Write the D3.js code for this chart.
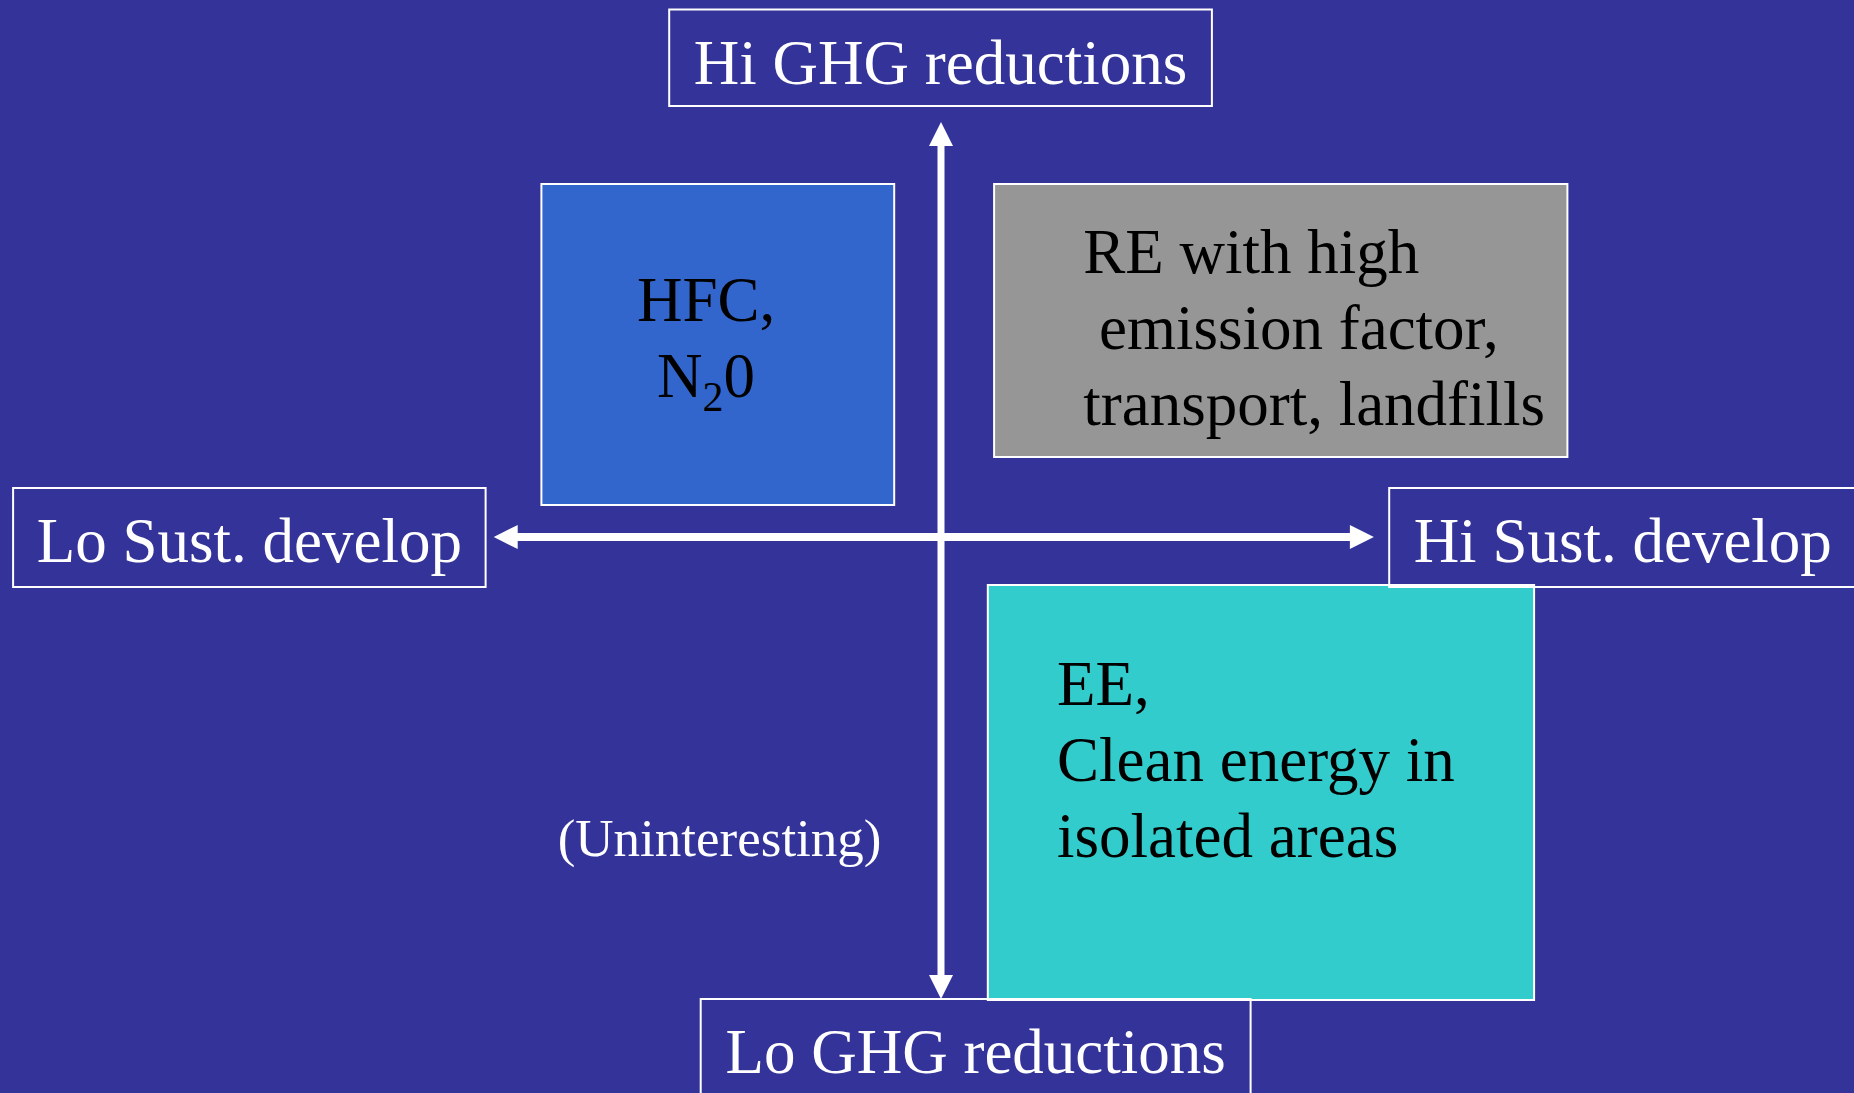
<!DOCTYPE html>
<html>
<head>
<meta charset="utf-8">
<script src="https://cdn.jsdelivr.net/npm/d3@7/dist/d3.min.js"></script>
<style>
body { margin: 0; background: #333399; overflow: hidden; }
svg { display: block; }
text { font-family: "Liberation Serif", "Times New Roman", serif; white-space: pre; }
</style>
</head>
<body>
<svg id="drawingPane" width="1854" height="1093"></svg>
<script>
const drawingPane = d3.select("#drawingPane");

//----------------------------------------------------------------------------------------------------------------------
// Data: x = sustainable development (-1 lo .. 1 hi), y = GHG reductions (-1 lo .. 1 hi)
//----------------------------------------------------------------------------------------------------------------------
const axisLabels = ["Hi GHG reductions", "Lo GHG reductions", "Lo Sust. develop", "Hi Sust. develop"];
// [x0, x1, yTop, yBottom]
const axisLabelExtents = [
    [-0.302, 0.301, 1.055, 0.862],
    [-0.267, 0.344, -0.924, -1.13],
    [-1.031, -0.506, 0.098, -0.1],
    [0.498, 1.017, 0.098, -0.1]
];

const quadrantNames = ["HFC", "RE", "EE"];
const quadrantLines = [
    ["HFC,", "N₂0"],
    ["RE with high", " emission factor,", "transport, landfills"],
    ["EE,", "Clean energy in", "isolated areas"]
];
const quadrantExtents = [
    [-0.444, -0.052, 0.706, 0.064],
    [0.059, 0.696, 0.706, 0.16],
    [0.052, 0.659, -0.096, -0.926]
];
// text anchor (x, first baseline)
const quadrantTextAt = [[-0.261, 0.432], [0.158, 0.528], [0.129, -0.336]];
const quadrantAnchor = ["middle", "start", "start"];
const quadrantColors = ["#3366cc", "#969696", "#33cccc"];

const emptyQuadrant = {text: "(Uninteresting)", at: [-0.246, -0.638]};

// arrows: horizontal [xFrom, xTo], vertical [yFrom, yTo]
const sustArrow = [-0.497, 0.481];
const ghgArrow = [0.83, -0.924];

//----------------------------------------------------------------------------------------------------------------------
// Scales
//----------------------------------------------------------------------------------------------------------------------
const x = d3.scaleLinear().domain([-1, 1]).range([41, 1841]);
const y = d3.scaleLinear().domain([-1, 1]).range([1037, 37]);

const fontSize = 63;
const lineStep = 76;

drawingPane.append("rect")
    .attr("width", 1854)
    .attr("height", 1093)
    .attr("fill", "#333399");

function addLine(textSel, str, lx, first) {
    const parts = str.split("₂");
    let t = textSel.append("tspan").attr("x", lx).attr("dy", first ? 0 : lineStep).text(parts[0]);
    if (parts.length > 1) {
        textSel.append("tspan").attr("font-size", 42).attr("dy", 14).text("2");
        textSel.append("tspan").attr("dy", -14).text(parts[1]);
    }
    return t;
}

//----------------------------------------------------------------------------------------------------------------------
// Quadrant boxes
//----------------------------------------------------------------------------------------------------------------------
const quads = drawingPane.selectAll(".quad")
    .data(quadrantNames)
    .enter().append("g")
    .attr("class", "quad");

quads.append("rect")
    .attr("x", (d, i) => x(quadrantExtents[i][0]))
    .attr("y", (d, i) => y(quadrantExtents[i][2]))
    .attr("width", (d, i) => x(quadrantExtents[i][1]) - x(quadrantExtents[i][0]))
    .attr("height", (d, i) => y(quadrantExtents[i][3]) - y(quadrantExtents[i][2]))
    .attr("fill", (d, i) => quadrantColors[i])
    .attr("stroke", "#ffffff")
    .attr("stroke-width", 2);

quads.append("text")
    .attr("font-size", fontSize)
    .attr("fill", "#000")
    .attr("text-anchor", (d, i) => quadrantAnchor[i])
    .attr("y", (d, i) => y(quadrantTextAt[i][1]))
    .each(function(d, i) {
        const sel = d3.select(this);
        quadrantLines[i].forEach((ln, j) => addLine(sel, ln, x(quadrantTextAt[i][0]), j === 0));
    });

drawingPane.append("text")
    .attr("x", x(emptyQuadrant.at[0]))
    .attr("y", y(emptyQuadrant.at[1]))
    .attr("text-anchor", "middle")
    .attr("font-size", 53)
    .attr("fill", "#fff")
    .text(emptyQuadrant.text);

//----------------------------------------------------------------------------------------------------------------------
// Axis label boxes
//----------------------------------------------------------------------------------------------------------------------
const labels = drawingPane.selectAll(".axisLabel")
    .data(axisLabels)
    .enter().append("g")
    .attr("class", "axisLabel");

labels.append("rect")
    .attr("x", (d, i) => x(axisLabelExtents[i][0]))
    .attr("y", (d, i) => y(axisLabelExtents[i][2]))
    .attr("width", (d, i) => x(axisLabelExtents[i][1]) - x(axisLabelExtents[i][0]))
    .attr("height", (d, i) => y(axisLabelExtents[i][3]) - y(axisLabelExtents[i][2]))
    .attr("fill", "none")
    .attr("stroke", "#ffffff")
    .attr("stroke-width", 2);

labels.append("text")
    .attr("x", (d, i) => (x(axisLabelExtents[i][0]) + x(axisLabelExtents[i][1])) / 2)
    .attr("y", (d, i) => y(axisLabelExtents[i][2]) + 74)
    .attr("text-anchor", "middle")
    .attr("font-size", fontSize)
    .attr("fill", "#fff")
    .text(d => d);

//----------------------------------------------------------------------------------------------------------------------
// Arrows
//----------------------------------------------------------------------------------------------------------------------
function arrowHead(tx, ty, dx, dy) {
    const len = 24, half = 12;
    const bx = tx - dx * len, by = ty - dy * len;
    return "M" + tx + "," + ty +
        "L" + (bx - dy * half) + "," + (by + dx * half) +
        "L" + (bx + dy * half) + "," + (by - dx * half) + "Z";
}

const arrows = drawingPane.append("g").attr("class", "arrows");
const cx = x(0), cy = y(0);

arrows.append("line")
    .attr("x1", x(sustArrow[0]) + 20).attr("x2", x(sustArrow[1]) - 20)
    .attr("y1", cy).attr("y2", cy)
    .attr("stroke", "#fff").attr("stroke-width", 8);
arrows.append("path").attr("d", arrowHead(x(sustArrow[0]), cy, -1, 0)).attr("fill", "#fff");
arrows.append("path").attr("d", arrowHead(x(sustArrow[1]), cy, 1, 0)).attr("fill", "#fff");

arrows.append("line")
    .attr("x1", cx).attr("x2", cx)
    .attr("y1", y(ghgArrow[0]) + 20).attr("y2", y(ghgArrow[1]) - 20)
    .attr("stroke", "#fff").attr("stroke-width", 7);
arrows.append("path").attr("d", arrowHead(cx, y(ghgArrow[0]), 0, -1)).attr("fill", "#fff");
arrows.append("path").attr("d", arrowHead(cx, y(ghgArrow[1]), 0, 1)).attr("fill", "#fff");
</script>
</body>
</html>
